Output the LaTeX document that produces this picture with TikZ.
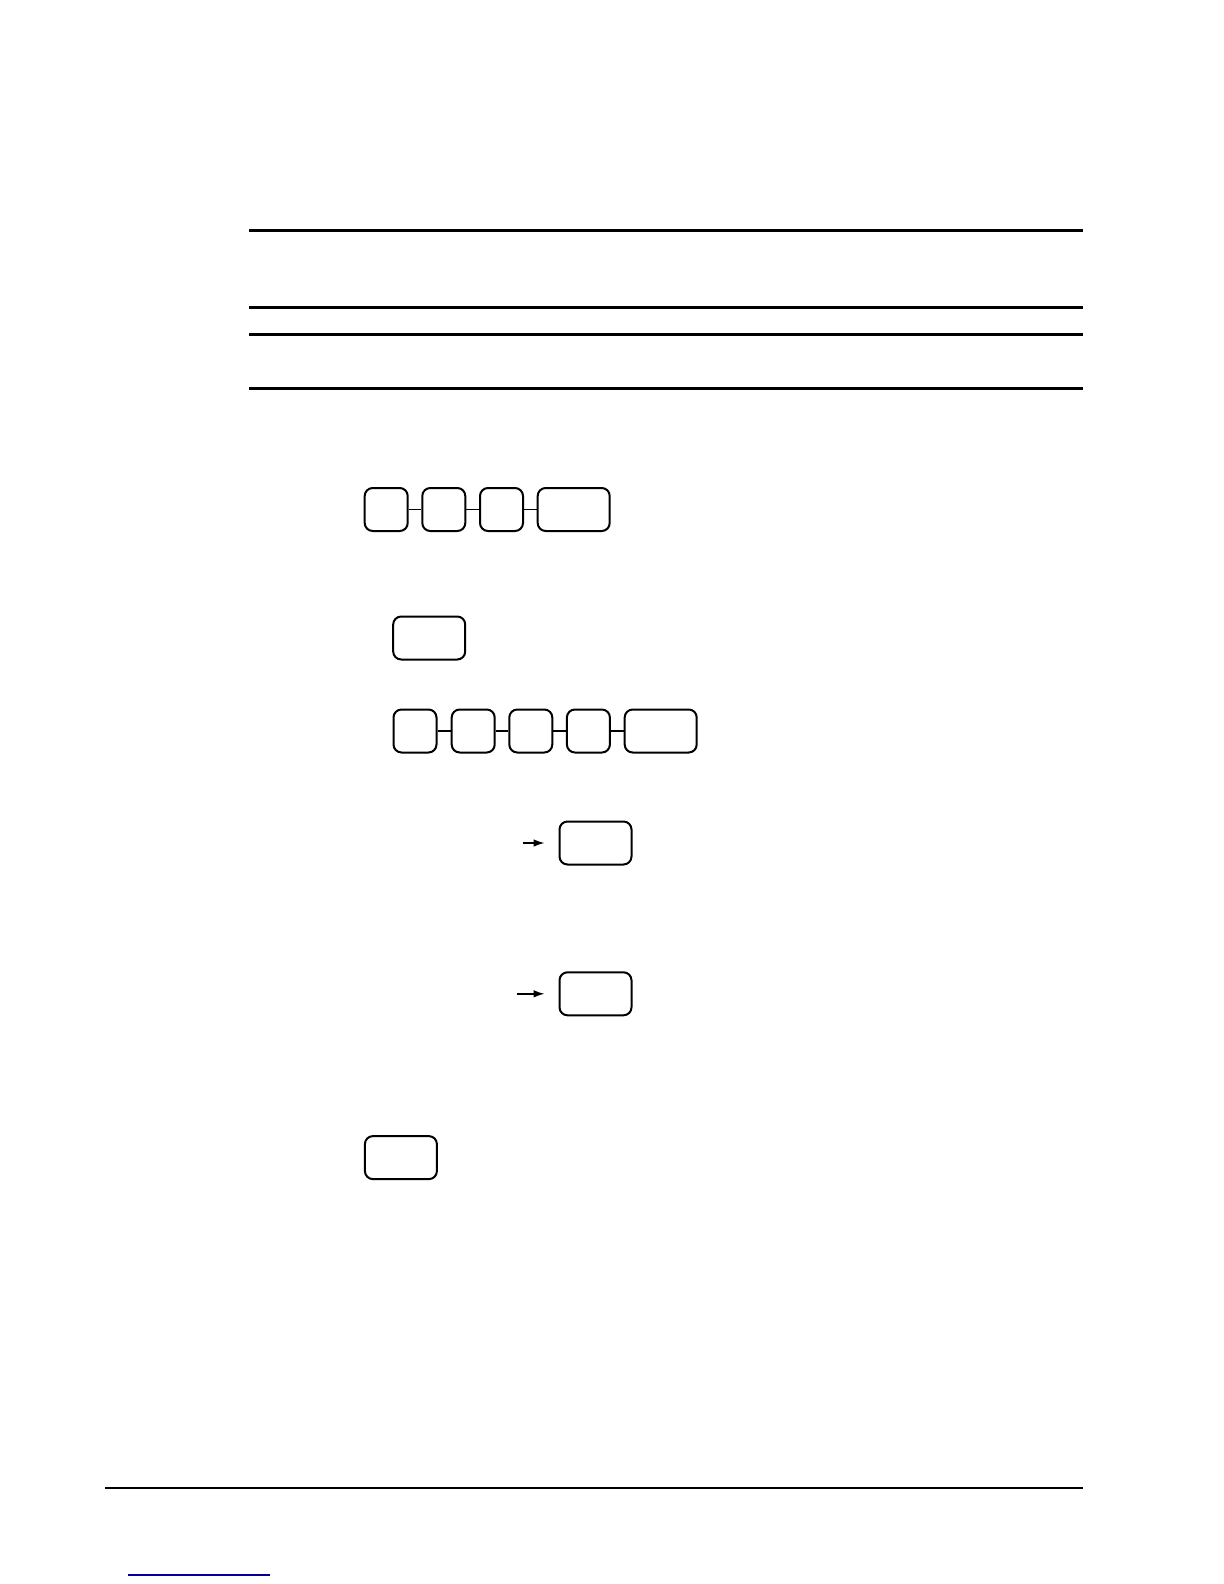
\documentclass[tikz,border=0pt]{standalone}
\usepackage{amsmath}
\usetikzlibrary{arrows.meta}

\begin{document}
\begin{tikzpicture}[x=0.5pt,y=-0.5pt,thick]
    \tikzstyle{key}=[rectangle,draw,rounded corners=4pt,line width=1pt,minimum width=21.5pt,minimum height=21.5pt,inner sep=0pt]
    \tikzstyle{widekey}=[key,minimum width=36pt]
    \tikzstyle{rule}=[line width=1.5pt]
    \tikzstyle{link}=[line width=0.8pt]
    \tikzstyle{pointer}=[-{Latex[length=5.5pt,width=3.8pt]},line width=0.7pt,shorten >=7pt]

    \useasboundingbox (0,0) rectangle (1224,1584);

    % Rules
    \draw[rule] (249,230.5) -- (1083,230.5);
    \draw[rule] (249,307.3) -- (1083,307.3);
    \draw[rule] (249,334.6) -- (1083,334.6);
    \draw[rule] (249,388.2) -- (1083,388.2);
    \draw[line width=1.1pt] (105,1488) -- (1083,1488);
    \draw[blue!60!black,line width=0.6pt] (128,1575) -- (270,1575);

    % Keys
    \node[key] (a1) at (386.2,509.5) {};
    \node[key] (a2) at (443.8,509.5) {};
    \node[key] (a3) at (501.5,509.5) {};
    \node[widekey] (a4) at (573.7,509.5) {};

    \node[widekey] (b1) at (429.2,638) {};

    \node[key] (c1) at (415,731) {};
    \node[key] (c2) at (473.2,731) {};
    \node[key] (c3) at (530.8,731) {};
    \node[key] (c4) at (588.4,731) {};
    \node[widekey] (c5) at (660.7,731) {};

    \node[widekey] (d1) at (595.5,843) {};
    \node[widekey] (e1) at (595.5,993.8) {};
    \node[widekey] (f1) at (400.9,1157.6) {};

    \coordinate (d0) at (522.7,843);
    \coordinate (e0) at (516.6,993.8);

    % Links
    \path[link]
        (a1) edge (a2)
        (a2) edge (a3)
        (a3) edge (a4)
        (c1) edge (c2)
        (c2) edge (c3)
        (c3) edge (c4)
        (c4) edge (c5)
        ;
    \draw[pointer] (d0) -- (d1);
    \draw[pointer] (e0) -- (e1);
\end{tikzpicture}
\end{document}
